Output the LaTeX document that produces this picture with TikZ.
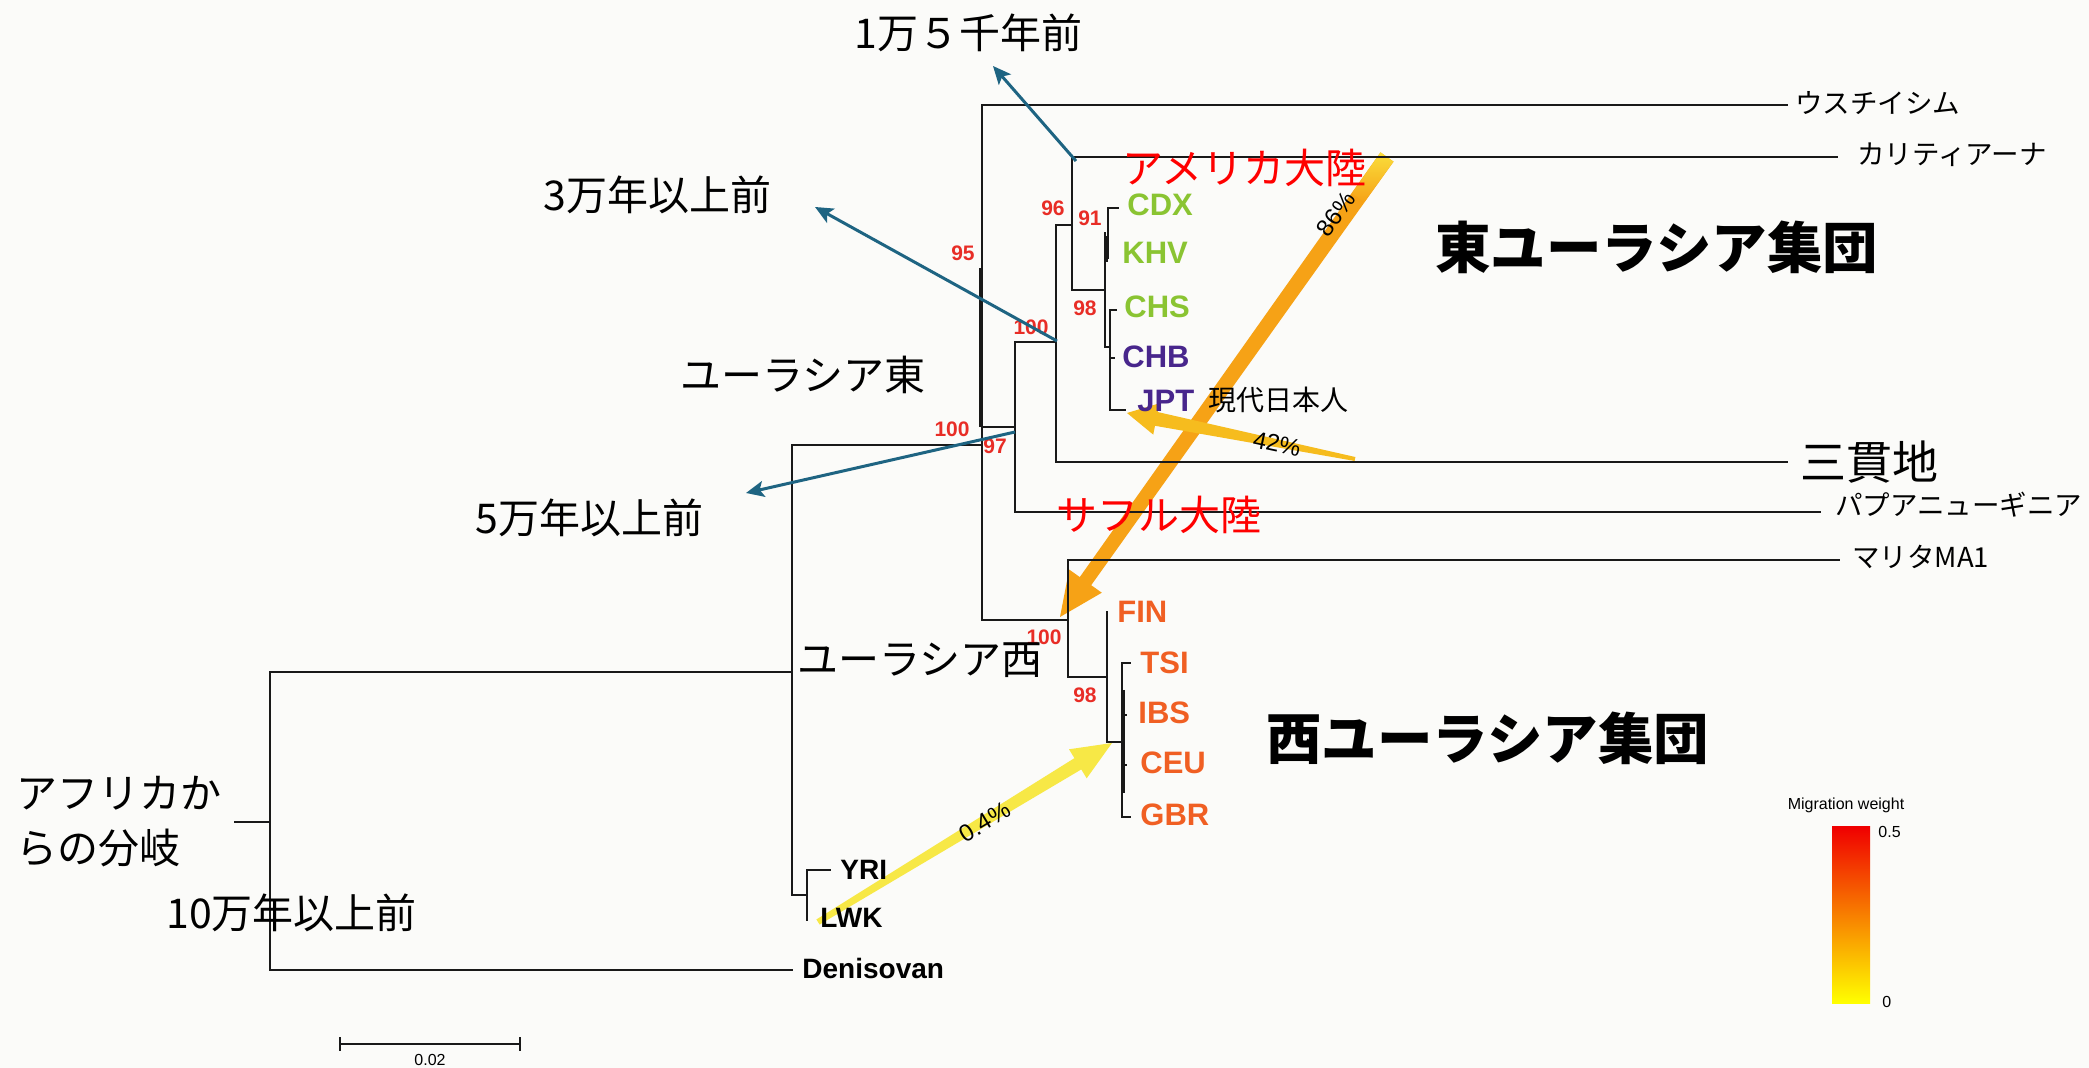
\documentclass[tikz,border=0pt]{standalone}
\usepackage{fontspec}
\setmainfont{Liberation Sans}
\newfontfamily\jp{Noto Sans CJK JP}
\usetikzlibrary{arrows.meta,calc}

\definecolor{bg}{RGB}{251,251,249}
\definecolor{treeline}{RGB}{25,25,25}
\definecolor{supp}{RGB}{232,45,38}
\definecolor{ltgreen}{RGB}{138,196,50}
\definecolor{indigo}{RGB}{72,38,140}
\definecolor{eurorg}{RGB}{240,95,35}
\definecolor{migblue}{RGB}{30,100,130}
\definecolor{migA}{RGB}{246,162,22}
\definecolor{migAtip}{RGB}{250,222,60}
\definecolor{migB}{RGB}{246,188,30}
\definecolor{migC}{RGB}{247,232,70}
\definecolor{mapred}{RGB}{240,0,0}
\definecolor{mapyel}{RGB}{255,255,0}

\newcommand\migband[7]{%
  \path ($(#2)!#5!(#1)$) coordinate (mB);
  \fill[#7] ($(#1)!#3!90:(#2)$) -- ($(mB)!#4!90:(#2)$) -- ($(mB)!#6!90:(#2)$) -- (#2)
    -- ($(mB)!#6!-90:(#2)$) -- ($(mB)!#4!-90:(#2)$) -- ($(#1)!#3!-90:(#2)$) -- cycle;
}

\begin{document}
\begin{tikzpicture}[x=0.5pt, y=-0.5pt,
  tl/.style={draw=treeline, line width=1.4pt, line cap=rect},
  tlthick/.style={draw=treeline, line width=2.4pt},
  pop/.style={font=\fontsize{15.5}{18}\selectfont\bfseries, inner sep=0pt, anchor=west},
  afr/.style={font=\fontsize{14}{16}\selectfont\bfseries, inner sep=0pt, anchor=west},
  sv/.style={font=\fontsize{10.5}{12}\selectfont\bfseries, text=supp, inner sep=0pt},
  jlab/.style={font=\jp\fontsize{20.5}{27.5}\selectfont, inner sep=0pt, anchor=west},
  leaf/.style={font=\jp\fontsize{13.75}{16}\selectfont, inner sep=0pt, anchor=west},
  biglab/.style={font=\jp\bfseries\fontsize{27.75}{32}\selectfont, inner sep=0pt, anchor=west},
  bluearrow/.style={draw=migblue, line width=1.5pt, -{Stealth[length=9pt,width=8pt,inset=2pt]}},
  pct/.style={font=\fontsize{12}{14}\selectfont, inner sep=0pt},
  small/.style={font=\fontsize{8}{9}\selectfont, inner sep=0pt}]

\fill[bg] (0,0) rectangle (2089,1068);
\useasboundingbox (0,0) rectangle (2089,1068);

% ---------- migration bands (under the tree) ----------
\coordinate (m86t) at (1387,157);
\coordinate (m86h) at (1060,617);
\migband{m86t}{m86h}{4pt}{3.5pt}{22pt}{10pt}{migA}
\shade[top color=migAtip, bottom color=migA]
  ($(m86t)!4pt!90:(m86h)$) -- ($($(m86t)!25pt!(m86h)$)!3.8pt!90:(m86h)$)
  -- ($($(m86t)!25pt!(m86h)$)!3.8pt!-90:(m86h)$) -- ($(m86t)!4pt!-90:(m86h)$) -- cycle;

\coordinate (m42t) at (1355,459);
\coordinate (m42h) at (1127,413);
\migband{m42t}{m42h}{1pt}{3.5pt}{15pt}{8pt}{migB}

\coordinate (m04t) at (818,922);
\coordinate (m04h) at (1112,743);
\migband{m04t}{m04h}{1.5pt}{3.3pt}{20pt}{8.5pt}{migC}

% ---------- tree ----------
\coordinate (root) at (270,822);
\coordinate (rootstub) at (235,822);
\coordinate (nAE) at (792,672);
\coordinate (nEur) at (982,445);
\coordinate (nEast) at (1015,427);
\coordinate (nEA) at (1056,342);
\coordinate (nAm) at (1072,225);
\coordinate (nEAsia) at (1105,290);
\coordinate (nWest) at (1068,620);
\coordinate (nW1) at (1107,677);
\coordinate (nW2) at (1122,742);

\draw[tl] (rootstub) -- (root);
\draw[tl] (270,672) -- (270,970) -- (792,970);
\draw[tl] (270,672) -- (nAE);
\draw[tl] (792,445) -- (792,895) -- (807,895);
\draw[tl] (807,870) -- (807,920);
\draw[tl] (807,870) -- (830,870);
\draw[tl] (792,445) -- (nEur);
\draw[tl] (982,105) -- (982,620) -- (nWest);
\draw[tlthick] (981,268) -- (981,427);
\draw[tl] (982,105) -- (1787,105);
\draw[tl] (982,427) -- (nEast);
\draw[tl] (1015,342) -- (1015,512) -- (1820,512);
\draw[tl] (1015,342) -- (nEA);
\draw[tl] (1056,225) -- (1056,462) -- (1787,462);
\draw[tl] (1056,225) -- (nAm);
\draw[tl] (1072,157) -- (1072,290) -- (nEAsia);
\draw[tl] (1072,157) -- (1837,157);
\draw[tl] (1105,233) -- (1105,347) -- (1110,347);
\draw[tlthick] (1106,236) -- (1106,262);
\draw[tl] (1108,208) -- (1108,258);
\draw[tl] (1108,208) -- (1118,208);
\draw[tl] (1110,310) -- (1110,410) -- (1125,410);
\draw[tl] (1110,310) -- (1116,310);
\draw[tl] (1110,358) -- (1114,358);
\draw[tl] (1068,560) -- (1068,677) -- (nW1);
\draw[tl] (1068,560) -- (1839,560);
\draw[tl] (1107,612) -- (1107,742) -- (nW2);
\draw[tl] (1122,663) -- (1122,817);
\draw[tlthick] (1123,690) -- (1123,793);
\draw[tl] (1122,663) -- (1130,663);
\draw[tl] (1122,715) -- (1126,715);
\draw[tl] (1122,765) -- (1126,765);
\draw[tl] (1122,817) -- (1130,817);

% ---------- population labels ----------
\node[pop, text=ltgreen] (cdx) at (1127,205) {CDX};
\node[pop, text=ltgreen] (khv) at (1122,253) {KHV};
\node[pop, text=ltgreen] (chs) at (1124,307) {CHS};
\node[pop, text=indigo] (chb) at (1122,357) {CHB};
\node[pop, text=indigo] (jpt) at (1137,401) {JPT};
\node[pop, text=eurorg] (fin) at (1117,612) {FIN};
\node[pop, text=eurorg] (tsi) at (1140,663) {TSI};
\node[pop, text=eurorg] (ibs) at (1138,713) {IBS};
\node[pop, text=eurorg] (ceu) at (1140,763) {CEU};
\node[pop, text=eurorg] (gbr) at (1140,815) {GBR};
\node[afr] (yri) at (840,870) {YRI};
\node[afr] (lwk) at (820,918) {LWK};
\node[afr] (den) at (802,968) {Denisovan};

% ---------- support values ----------
\node[sv, anchor=east] (s95) at (975,253) {95};
\node[sv, anchor=east] (s96) at (1065,208) {96};
\node[sv, anchor=east] (s91) at (1102,218) {91};
\node[sv, anchor=east] (s98a) at (1097,308) {98};
\node[sv, anchor=east] (s100a) at (1049,327) {100};
\node[sv, anchor=east] (s100b) at (970,429) {100};
\node[sv, anchor=west] (s97) at (983,446) {97};
\node[sv, anchor=east] (s100c) at (1062,637) {100};
\node[sv, anchor=east] (s98b) at (1097,695) {98};

% ---------- leaf names (Japanese) ----------
\node[leaf] (usu) at (1795,103) {ウスチイシム};
\node[leaf] (kar) at (1857,155) {カリティアーナ};
\node[jlab, font=\jp\fontsize{23}{26}\selectfont] (san) at (1800,462) {三貫地};
\node[leaf] (pap) at (1835,505) {パプアニューギニア};
\node[leaf] (mal) at (1852,557) {マリタMA1};
\node[leaf, font=\jp\fontsize{14}{16}\selectfont] (gen) at (1208,400) {現代日本人};

% ---------- annotations ----------
\node[jlab, text=red] (amer) at (1122,168) {アメリカ大陸};
\node[jlab, text=red] (sahul) at (1056,515) {サフル大陸};
\node[biglab] (eastgrp) at (1435,247) {東ユーラシア集団};
\node[biglab] (westgrp) at (1266,738) {西ユーラシア集団};
\node[jlab] (t15k) at (854,33) {1万５千年前};
\node[jlab] (t30k) at (543,195) {3万年以上前};
\node[jlab] (eueast) at (680,375) {ユーラシア東};
\node[jlab] (t50k) at (475,518) {5万年以上前};
\node[jlab] (euwest) at (797,660) {ユーラシア西};
\node[jlab, align=left] (afrsplit) at (16,822) {アフリカか\\らの分岐};
\node[jlab] (t100k) at (166,913) {10万年以上前};

% ---------- blue arrows ----------
\coordinate (b15s) at (1076,161);
\coordinate (b15e) at (993,66);
\coordinate (b30s) at (1057,341);
\coordinate (b30e) at (815,207);
\coordinate (b50s) at (1015,432);
\coordinate (b50e) at (746,493);
\draw[bluearrow] (b15s) -- (b15e);
\draw[bluearrow] (b30s) -- (b30e);
\draw[bluearrow] (b50s) -- (b50e);

% ---------- migration percentages ----------
\node[pct, rotate=54.7] (p86) at (1336,214) {86\%};
\node[pct, rotate=-12] (p42) at (1277,444) {42\%};
\node[pct, rotate=31] (p04) at (985,822) {0.4\%};

% ---------- legend ----------
\node[small] (mwtitle) at (1846,805) {Migration weight};
\shade[top color=mapred, middle color=mapred, bottom color=mapyel] (1832,827) rectangle (1870,1003);
\node[small, anchor=west] (mw05) at (1878,832) {0.5};
\node[small, anchor=west] (mw0) at (1882,1002) {0};

% ---------- scale bar ----------
\coordinate (sbl) at (340,1044);
\coordinate (sbr) at (520,1044);
\draw[draw=treeline, line width=1.1pt] (sbl) -- (sbr);
\draw[draw=treeline, line width=1.1pt] ($(sbl)+(0,-7)$) -- ($(sbl)+(0,7)$);
\draw[draw=treeline, line width=1.1pt] ($(sbr)+(0,-7)$) -- ($(sbr)+(0,7)$);
\node[small] (sbtext) at (430,1060) {0.02};
\end{tikzpicture}
\end{document}
